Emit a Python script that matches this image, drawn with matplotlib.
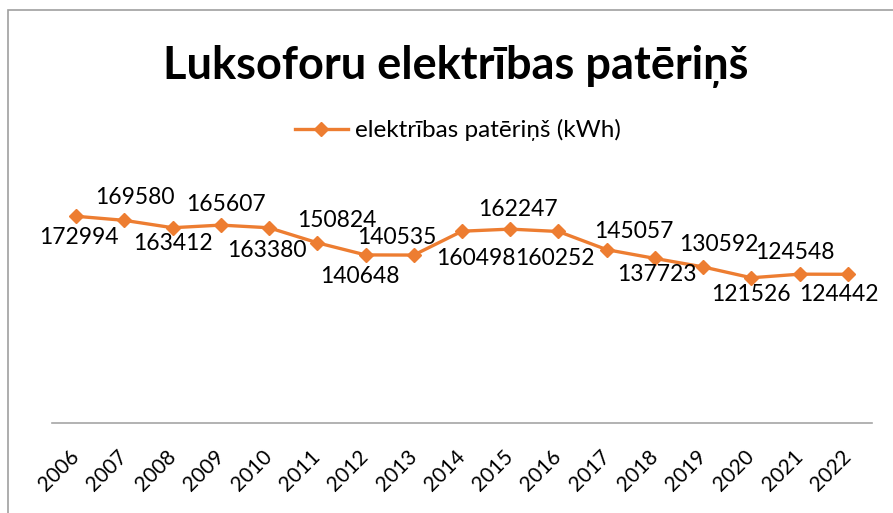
import matplotlib.pyplot as plt
from matplotlib.patches import Rectangle

years = ['2006', '2007', '2008', '2009', '2010', '2011', '2012', '2013', '2014',
         '2015', '2016', '2017', '2018', '2019', '2020', '2021', '2022']
consumption = [172994, 169580, 163412, 165607, 163380, 150824, 140648, 140535, 160498,
               162247, 160252, 145057, 137723, 130592, 121526, 124548, 124442]
title = 'Luksoforu elektrības patēriņš'
series_name = 'elektrības patēriņš (kWh)'

orange = '#ED7D31'
plt.rcParams['font.family'] = ['Lato', 'DejaVu Sans']

fig = plt.figure(figsize=(8.93, 5.13), dpi=100)
ax = fig.add_axes([52 / 893, 1 - 423 / 513, 820 / 893, 239 / 513])

x = list(range(len(years)))
ax.plot(x, consumption, '-', color=orange, lw=2.4, marker='D', ms=7, label=series_name)

# label placement (pixels, dy positive = down), picked to match the Excel layout
label_offsets = [(3, 21), (11, -23), (0, 16), (5, -21), (-2, 23), (20, -22), (-6, 22),
                 (-17, -18), (14, 27), (8, -20), (-4, 27), (27, -18), (2, 16), (16, -22),
                 (0, 17), (-5, -22), (-9, 20)]
for xi, v, (dx, dy) in zip(x, consumption, label_offsets):
    ax.annotate(str(v), (xi, v), xytext=(dx, -dy), textcoords='offset pixels',
                ha='center', va='center', fontsize=16.5, color='black')

ax.set_xlim(-0.5, len(years) - 0.5)
ax.set_ylim(0, 200000)
ax.set_xticks(x)
ax.set_xticklabels(years, rotation=45, ha='right', va='center', rotation_mode='anchor', fontsize=15)
ax.tick_params(axis='x', length=0, pad=22)
ax.set_yticks([])
for side in ['left', 'right', 'top']:
    ax.spines[side].set_visible(False)
ax.spines['bottom'].set_color('#A6A6A6')
ax.spines['bottom'].set_linewidth(1.2)

fig.text(456 / 893, 1 - 66 / 513, title, ha='center', va='center', fontsize=32.5, fontweight='bold')
fig.legend(loc='center', bbox_to_anchor=(458 / 893, 1 - 130 / 513), frameon=False,
           fontsize=17.5, handlelength=2.2, handletextpad=0.3)

fig.patches.append(Rectangle((8 / 893, -0.1), 1.0, 1 - 9.5 / 513 + 0.1, transform=fig.transFigure,
                             fill=False, edgecolor='#A0A0A0', lw=1.2))

fig.savefig('out.png', dpi=100)
